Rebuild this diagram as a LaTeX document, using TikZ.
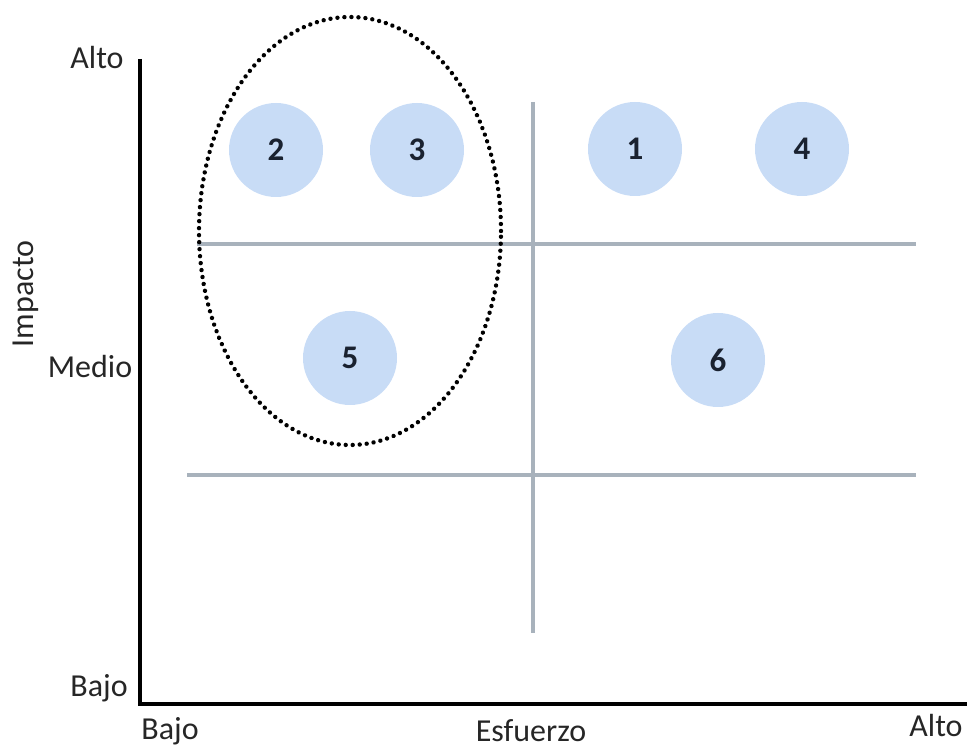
\documentclass[tikz,border=0pt]{standalone}
\usepackage{fontspec}
\setmainfont{Carlito}
\usepackage{xcolor}
\definecolor{bubble}{RGB}{200,220,246}
\definecolor{gridgray}{RGB}{168,178,188}
\definecolor{ink}{RGB}{26,34,48}
\usepackage{tikz}
\usetikzlibrary{positioning,calc}
\tikzset{
  %% quadrant grid and axes
  axisline/.style={draw=black, line width=3.6pt},
  gridline/.style={draw=gridgray, line width=3.4pt},
  %% numbered items
  item/.style={circle, fill=bubble, minimum size=94pt, inner sep=0pt,
               text=ink, font=\fontsize{33}{36}\selectfont\bfseries},
  axlabel/.style={font=\fontsize{32}{36}\selectfont, text=black!85, inner sep=0pt},
  group/.style={draw=black, line width=4.4pt, line cap=round,
                dash pattern=on 0.01pt off 7pt},
}
\begin{document}
\begin{tikzpicture}[x=1pt,y=1pt]
\useasboundingbox (0,0) rectangle (969,749);
%% axes
\coordinate (origin) at (140,45);
\coordinate (ytop) at (140,690);
\coordinate (xend) at (967,45);
\draw[axisline] (ytop) -- (origin) -- (xend);
%% quadrant lines
\coordinate (h1a) at (197,505); \coordinate (h1b) at (916,505);
\coordinate (h2a) at (187,274); \coordinate (h2b) at (916,274);
\coordinate (vtop) at (533,647); \coordinate (vbot) at (533,116);
\draw[gridline] (h1a) -- (h1b);
\draw[gridline] (h2a) -- (h2b);
\draw[gridline] (vtop) -- (vbot);
%% items
\node[item] (c2) at (276,599) {2};
\node[item] (c3) at (417,599) {3};
\node[item] (c1) at (635,600) {1};
\node[item] (c4) at (802,600) {4};
\node[item] (c5) at (350,391) {5};
\node[item] (c6) at (718,389) {6};
%% quick-win group
\draw[group] (350,518) ellipse [x radius=151, y radius=214];
%% labels
\node[axlabel, anchor=base] (ialto) at (97,680) {Alto};
\node[axlabel, anchor=base] (imedio) at (90,371) {Medio};
\node[axlabel, anchor=base] (ibajo) at (99,52) {Bajo};
\node[axlabel, anchor=base, rotate=90] (impacto) at (33,455) {Impacto};
\node[axlabel, anchor=base] (ebajo) at (170,9) {Bajo};
\node[axlabel, anchor=base] (esfuerzo) at (531,7) {Esfuerzo};
\node[axlabel, anchor=base] (ealto) at (936,12) {Alto};
\end{tikzpicture}
\end{document}
